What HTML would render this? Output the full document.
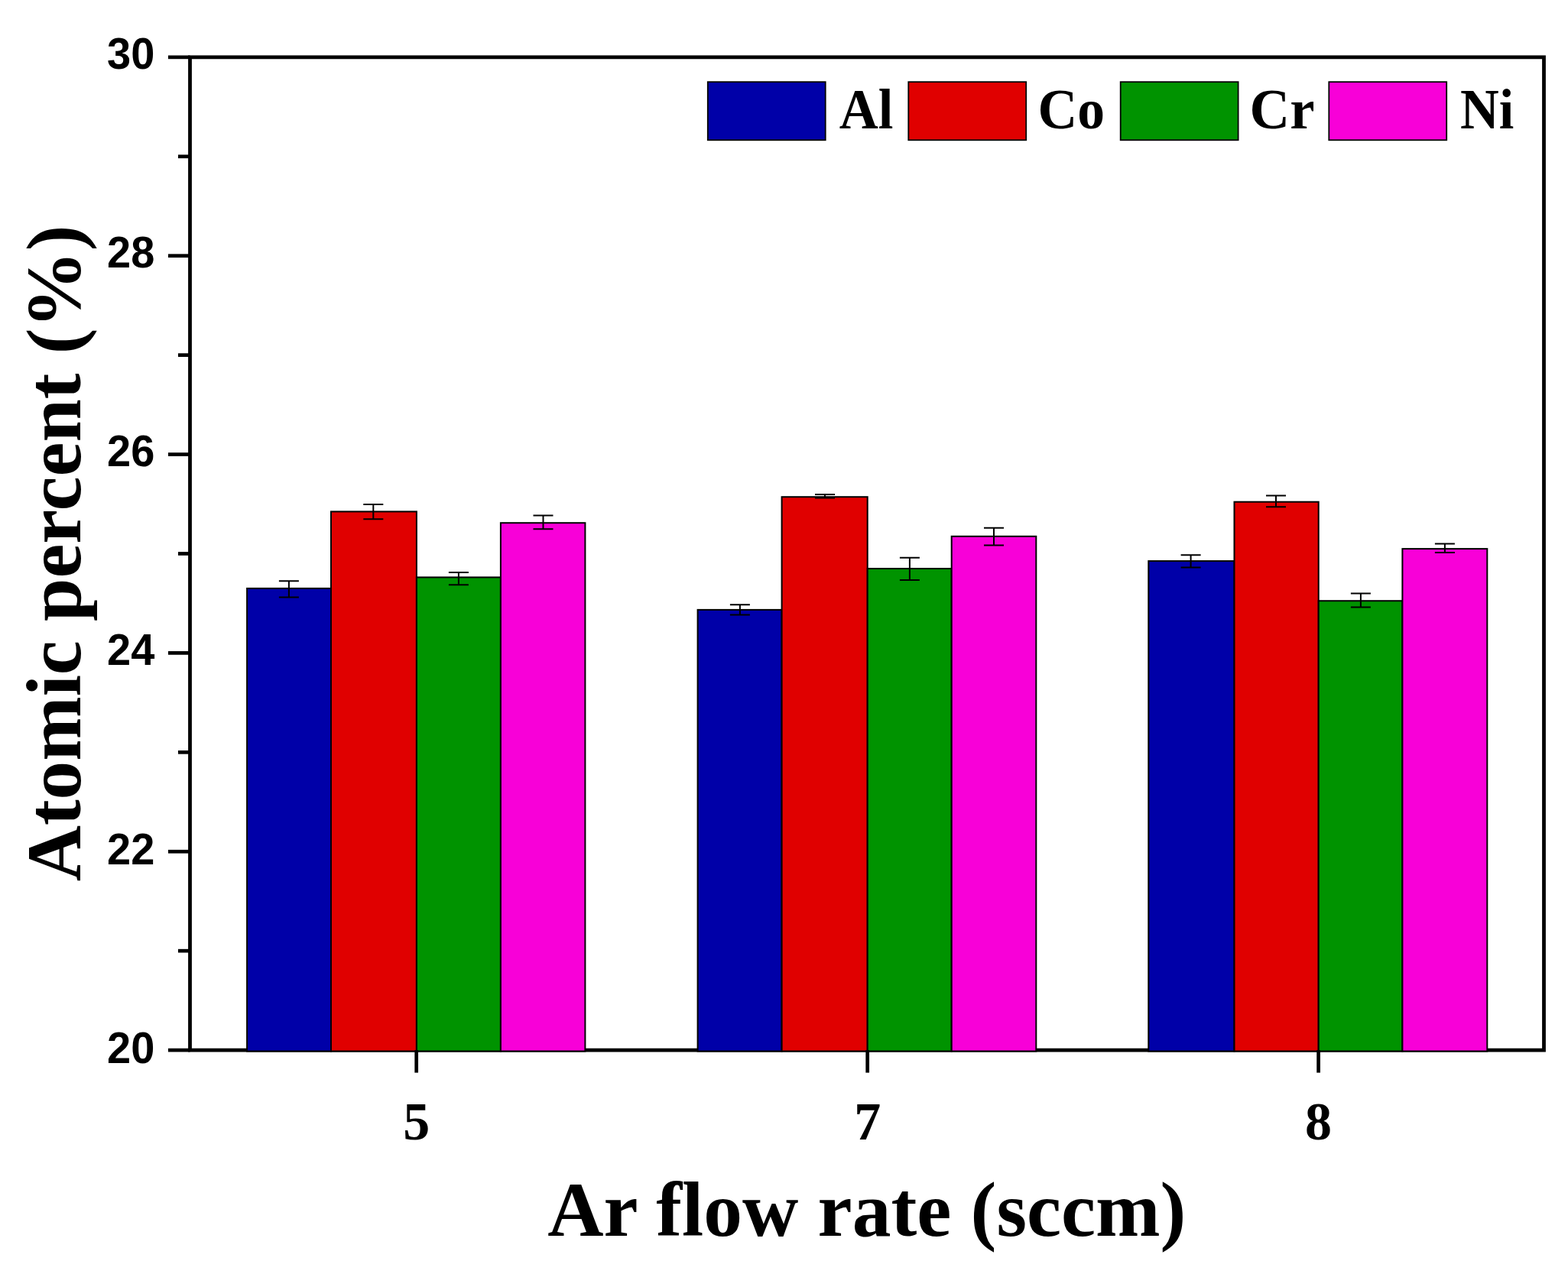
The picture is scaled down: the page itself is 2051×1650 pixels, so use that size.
<!DOCTYPE html><html><head><meta charset="utf-8"><title>Atomic percent vs Ar flow rate</title><style>html,body{margin:0;padding:0;background:#fff;overflow:hidden;}svg{display:block;}</style></head><body>
<svg width="2051" height="1650" viewBox="0 0 2051 1650">
<rect x="0" y="0" width="2051" height="1650" fill="#fff"/>
<rect x="248.5" y="74.85" width="1771.0" height="1299.25" fill="none" stroke="#000" stroke-width="4.8"/>
<line x1="220" y1="1374.10" x2="248.5" y2="1374.10" stroke="#000" stroke-width="4.7"/>
<line x1="220" y1="1114.25" x2="248.5" y2="1114.25" stroke="#000" stroke-width="4.7"/>
<line x1="220" y1="854.40" x2="248.5" y2="854.40" stroke="#000" stroke-width="4.7"/>
<line x1="220" y1="594.55" x2="248.5" y2="594.55" stroke="#000" stroke-width="4.7"/>
<line x1="220" y1="334.70" x2="248.5" y2="334.70" stroke="#000" stroke-width="4.7"/>
<line x1="220" y1="74.85" x2="248.5" y2="74.85" stroke="#000" stroke-width="4.7"/>
<line x1="233" y1="1244.17" x2="248.5" y2="1244.17" stroke="#000" stroke-width="4.7"/>
<line x1="233" y1="984.32" x2="248.5" y2="984.32" stroke="#000" stroke-width="4.7"/>
<line x1="233" y1="724.47" x2="248.5" y2="724.47" stroke="#000" stroke-width="4.7"/>
<line x1="233" y1="464.62" x2="248.5" y2="464.62" stroke="#000" stroke-width="4.7"/>
<line x1="233" y1="204.77" x2="248.5" y2="204.77" stroke="#000" stroke-width="4.7"/>
<rect x="323.1" y="769.9" width="109.9" height="605.6" fill="#0000A8" stroke="#000" stroke-width="2"/>
<rect x="433.0" y="669.4" width="111.9" height="706.1" fill="#E00000" stroke="#000" stroke-width="2"/>
<rect x="544.9" y="755.4" width="110.0" height="620.1" fill="#009300" stroke="#000" stroke-width="2"/>
<rect x="654.9" y="684.2" width="110.5" height="691.3" fill="#F800D8" stroke="#000" stroke-width="2"/>
<rect x="912.6" y="797.9" width="110.0" height="577.6" fill="#0000A8" stroke="#000" stroke-width="2"/>
<rect x="1022.6" y="650.2" width="112.1" height="725.3" fill="#E00000" stroke="#000" stroke-width="2"/>
<rect x="1134.7" y="744.0" width="110.0" height="631.5" fill="#009300" stroke="#000" stroke-width="2"/>
<rect x="1244.7" y="701.8" width="110.6" height="673.7" fill="#F800D8" stroke="#000" stroke-width="2"/>
<rect x="1502.3" y="734.1" width="112.2" height="641.4" fill="#0000A8" stroke="#000" stroke-width="2"/>
<rect x="1614.5" y="656.7" width="110.2" height="718.8" fill="#E00000" stroke="#000" stroke-width="2"/>
<rect x="1724.7" y="786.2" width="109.7" height="589.3" fill="#009300" stroke="#000" stroke-width="2"/>
<rect x="1834.4" y="718.1" width="110.9" height="657.4" fill="#F800D8" stroke="#000" stroke-width="2"/>
<path d="M364.9 760.3H390.9M377.9 760.3V781.5M364.9 781.5H390.9" stroke="#000" stroke-width="2" fill="none"/>
<path d="M475.3 659.9H501.3M488.3 659.9V679.3M475.3 679.3H501.3" stroke="#000" stroke-width="2" fill="none"/>
<path d="M586.9 748.9H612.9M599.9 748.9V765.2M586.9 765.2H612.9" stroke="#000" stroke-width="2" fill="none"/>
<path d="M697.5 674.4H723.5M710.5 674.4V692.2M697.5 692.2H723.5" stroke="#000" stroke-width="2" fill="none"/>
<path d="M954.9 791.2H980.9M967.9 791.2V804.4M954.9 804.4H980.9" stroke="#000" stroke-width="2" fill="none"/>
<path d="M1066.0 647.0H1092.0M1079.0 647.0V651.6M1066.0 651.6H1092.0" stroke="#000" stroke-width="2" fill="none"/>
<path d="M1176.9 729.7H1202.9M1189.9 729.7V758.9M1176.9 758.9H1202.9" stroke="#000" stroke-width="2" fill="none"/>
<path d="M1287.0 690.7H1313.0M1300.0 690.7V713.5M1287.0 713.5H1313.0" stroke="#000" stroke-width="2" fill="none"/>
<path d="M1544.6 726.3H1570.6M1557.6 726.3V742.6M1544.6 742.6H1570.6" stroke="#000" stroke-width="2" fill="none"/>
<path d="M1656.0 648.4H1682.0M1669.0 648.4V663.2M1656.0 663.2H1682.0" stroke="#000" stroke-width="2" fill="none"/>
<path d="M1766.9 776.6H1792.9M1779.9 776.6V794.4M1766.9 794.4H1792.9" stroke="#000" stroke-width="2" fill="none"/>
<path d="M1876.9 711.6H1902.9M1889.9 711.6V723.1M1876.9 723.1H1902.9" stroke="#000" stroke-width="2" fill="none"/>
<line x1="544.7" y1="1374.1" x2="544.7" y2="1403.6" stroke="#000" stroke-width="4.7"/>
<line x1="1134.7" y1="1374.1" x2="1134.7" y2="1403.6" stroke="#000" stroke-width="4.7"/>
<line x1="1724.6" y1="1374.1" x2="1724.6" y2="1403.6" stroke="#000" stroke-width="4.7"/>
<text transform="translate(202.4 1390.80) scale(1 1.035)" text-anchor="end" font-family="Liberation Sans, Arial, sans-serif" font-weight="bold" font-size="56">20</text>
<text transform="translate(202.4 1131.05) scale(1 1.035)" text-anchor="end" font-family="Liberation Sans, Arial, sans-serif" font-weight="bold" font-size="56">22</text>
<text transform="translate(202.4 869.65) scale(1 1.035)" text-anchor="end" font-family="Liberation Sans, Arial, sans-serif" font-weight="bold" font-size="56">24</text>
<text transform="translate(202.4 610.40) scale(1 1.035)" text-anchor="end" font-family="Liberation Sans, Arial, sans-serif" font-weight="bold" font-size="56">26</text>
<text transform="translate(202.4 349.50) scale(1 1.035)" text-anchor="end" font-family="Liberation Sans, Arial, sans-serif" font-weight="bold" font-size="56">28</text>
<text transform="translate(202.4 90.10) scale(1 1.035)" text-anchor="end" font-family="Liberation Sans, Arial, sans-serif" font-weight="bold" font-size="56">30</text>
<text x="544.7" y="1490.8" text-anchor="middle" font-family="Liberation Serif, Times New Roman, serif" font-weight="bold" font-size="70">5</text>
<text x="1134.7" y="1490.8" text-anchor="middle" font-family="Liberation Serif, Times New Roman, serif" font-weight="bold" font-size="70">7</text>
<text x="1724.6" y="1490.8" text-anchor="middle" font-family="Liberation Serif, Times New Roman, serif" font-weight="bold" font-size="70">8</text>
<rect x="925.8" y="107.2" width="153.9" height="76.1" fill="#0000A8" stroke="#000" stroke-width="1.8"/>
<text transform="translate(1097.75 168) scale(0.955 1)" font-family="Liberation Serif, Times New Roman, serif" font-weight="bold" font-size="74">Al</text>
<rect x="1188.3" y="107.2" width="153.9" height="76.1" fill="#E00000" stroke="#000" stroke-width="1.8"/>
<text transform="translate(1357.6 168) scale(0.968 1)" font-family="Liberation Serif, Times New Roman, serif" font-weight="bold" font-size="74">Co</text>
<rect x="1465.7" y="107.2" width="153.9" height="76.1" fill="#009300" stroke="#000" stroke-width="1.8"/>
<text transform="translate(1634.6 168) scale(0.984 1)" font-family="Liberation Serif, Times New Roman, serif" font-weight="bold" font-size="74">Cr</text>
<rect x="1738.3" y="107.2" width="153.9" height="76.1" fill="#F800D8" stroke="#000" stroke-width="1.8"/>
<text transform="translate(1909.95 168) scale(0.95 1)" font-family="Liberation Serif, Times New Roman, serif" font-weight="bold" font-size="74">Ni</text>
<text x="1133.85" y="1616.5" text-anchor="middle" font-family="Liberation Serif, Times New Roman, serif" font-weight="bold" font-size="101.5">Ar flow rate (sccm)</text>
<text transform="translate(104.5 723.85) rotate(-90)" text-anchor="middle" font-family="Liberation Serif, Times New Roman, serif" font-weight="bold" font-size="101.3">Atomic percent (%)</text>
</svg></body></html>
